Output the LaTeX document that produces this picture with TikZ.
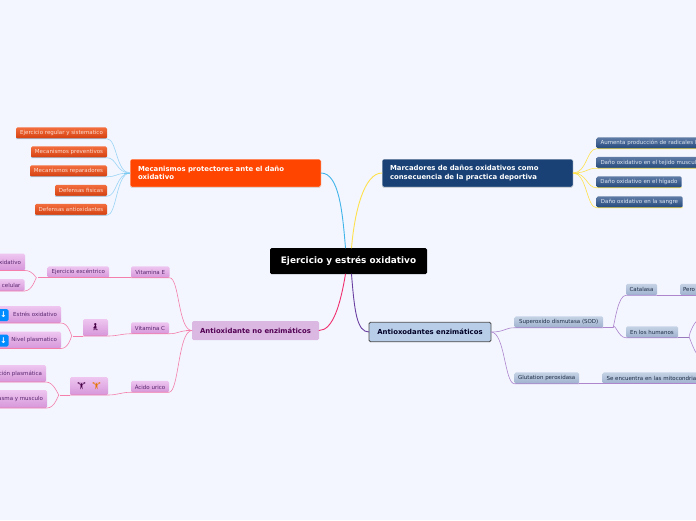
\documentclass[tikz,border=0pt]{standalone}
\usepackage{fontspec}
\setmainfont{DejaVu Sans}
\newfontfamily\emojifont{Noto Emoji}
\usepackage{xcolor}
\usetikzlibrary{positioning, shadows}
\definecolor{paper}{HTML}{F3F6FF}
\definecolor{skywire}{HTML}{41B4EA}
\definecolor{skyleaf}{HTML}{9BD4F5}
\definecolor{sunwire}{HTML}{FFE14D}
\definecolor{rosewire}{HTML}{F0306F}
\definecolor{roseleaf}{HTML}{F47FAB}
\definecolor{plumwire}{HTML}{6A3FA0}
\definecolor{plumleaf}{HTML}{AE86CE}
\definecolor{lilac}{HTML}{DAB8E2}
\definecolor{steel}{HTML}{B8CDE8}
\definecolor{flame}{HTML}{FF4500}
\definecolor{ocean}{HTML}{1A4175}
\begin{document}
\begin{tikzpicture}[
        x=1pt, y=-1pt,
        every node/.style={inner sep=0pt, outer sep=0pt},
        head/.style={rounded corners=1.5pt, font=\fontsize{6.9}{8.2}\selectfont\bfseries, minimum height=28pt, minimum width=191pt, text width=175pt, align=left, draw=white, line width=.5pt, drop shadow={shadow xshift=0pt, shadow yshift=-.7pt, fill=black!45, opacity=.6}},
        fork/.style={rounded corners=1.5pt, font=\fontsize{6.9}{8.2}\selectfont\bfseries, align=center},
        leaf/.style={rounded corners=1.5pt, font=\fontsize{5.5}{6.5}\selectfont, minimum height=11.5pt, align=center},
        orange/.style={leaf, top color={rgb,255:red,243;green,110;blue,62}, bottom color={rgb,255:red,212;green,62;blue,14}, text={rgb,255:red,252;green,222;blue,210}},
        navy/.style={leaf, top color={rgb,255:red,96;green,124;blue,166}, bottom color={rgb,255:red,34;green,72;blue,124}, text={rgb,255:red,222;green,230;blue,242}},
        pink/.style={leaf, top color={rgb,255:red,238;green,198;blue,240}, bottom color={rgb,255:red,214;green,150;blue,218}, text={rgb,255:red,88;green,40;blue,110}},
        slate/.style={leaf, top color={rgb,255:red,198;green,211;blue,230}, bottom color={rgb,255:red,158;green,177;blue,206}, text={rgb,255:red,30;green,46;blue,68}},
        pinkup/.style={pink, minimum height=17pt},
        hint/.style={rounded corners=1.5pt, fill=blue!45!cyan, text=white, minimum width=10pt, minimum height=12pt, font=\fontsize{8}{8}\selectfont\bfseries},
        wire/.style={line width=.9pt, line cap=round},
        twig/.style={line width=.6pt},
        stub/.style={line width=1pt}
    ]
        \path[use as bounding box, fill=paper] (0,0) rectangle (696,520);

        % main topics
        \node[fill=black, text=white, fork, minimum width=157pt, minimum height=26pt, font=\fontsize{8.9}{10}\selectfont\bfseries] (root) at (348.5,261) {Ejercicio y estrés oxidativo};
        \node[head, fill=flame, text=white] (mec) at (225.5,173) {Mecanismos protectores ante el daño\\oxidativo};
        \node[head, fill=ocean, text=white] (mar) at (477.5,173) {Marcadores de daños oxidativos como\\consecuencia de la practica deportiva};
        \node[fork, fill=lilac, text=violet!65!black, minimum width=127pt, minimum height=19pt] (noenz) at (255.5,330.5) {Antioxidante no enzimáticos};
        \node[fork, fill=steel, text=black!85!blue, draw=black!70, line width=.9pt, minimum width=122pt, minimum height=19.5pt] (enz) at (430,332) {Antioxodantes enzimáticos};

        % orange leaves
        \node[orange, anchor=east, minimum width=91pt] (regular) at (107,133) {Ejercicio regular y sistematico};
        \node[orange, below=7.5pt of regular.south east, anchor=north east, minimum width=76pt] (prev) {Mecanismos preventivos};
        \node[orange, below=7.5pt of prev.south east, anchor=north east, minimum width=77pt] (rep) {Mecanismos reparadores};
        \node[orange, below=8pt of rep.south east, anchor=north east, minimum width=52pt] (fis) {Defensas fisicas};
        \node[orange, below=7.5pt of fis.south east, anchor=north east, minimum width=72pt] (anti) {Defensas antioxidantes};

        % navy leaves
        \node[navy, anchor=west, minimum width=130pt, text width=122pt, align=left] (radic) at (596.5,143) {Aumenta producción de radicales l};
        \node[navy, below=8pt of radic.south west, anchor=north west, minimum width=130pt, text width=122pt, align=left] (tejido) {Daño oxidativo en el tejido muscul};
        \node[navy, below=8pt of tejido.south west, anchor=north west, minimum width=85pt] (higado) {Daño oxidativo en el hígado};
        \node[navy, below=8.5pt of higado.south west, anchor=north west, minimum width=86pt] (sangre) {Daño oxidativo en la sangre};

        % slate leaves
        \node[slate, anchor=west, minimum width=88.5pt] (sod) at (514.5,322) {Superoxido dismutasa (SOD)};
        \node[slate, anchor=west, minimum width=64.5pt] (glut) at (514.5,378) {Glutation peroxidasa};
        \node[slate, anchor=west, minimum width=31pt] (cata) at (626,289.5) {Catalasa};
        \node[slate, anchor=west, minimum width=52pt] (huma) at (626,332) {En los humanos};
        \node[slate, anchor=west, minimum width=30pt, text width=24pt, align=left] (pero) at (680,289.5) {Pero};
        \node[slate, anchor=west, minimum width=110pt, text width=102pt, align=left] (mito) at (602.5,378) {Se encuentra en las mitocondria};
        \coordinate (humaup) at (702,318);
        \coordinate (humadown) at (702,358);

        % pink leaves
        \node[pink, anchor=east, minimum width=38.5pt] (vite) at (169.5,272) {Vitamina E};
        \node[pink, anchor=east, minimum width=38pt] (vitc) at (169,328) {Vitamina C};
        \node[pink, anchor=east, minimum width=38pt] (urico) at (169,386.5) {Ácido urico};
        \node[pink, anchor=east, minimum width=61.5pt] (excen) at (109,272) {Ejercicio excéntrico};
        \node[pinkup, anchor=east] (oxid) at (25,262) {\makebox[50pt][r]{oxidativo\hspace{4pt}}};
        \node[pink, anchor=east, minimum height=12pt] (celu) at (24.5,285) {\makebox[50pt][r]{celular\hspace{4pt}}};
        \node[pinkup, anchor=east, minimum width=25pt] (lone) at (108,327.5) {\textcolor{violet!55!black}{\emojifont\fontsize{7}{7}\selectfont\symbol{"1F9CE}}};
        \node[pinkup, anchor=east] (estres) at (61,314.5) {\makebox[75pt][r]{Estrés oxidativo\hspace{4pt}}};
        \node[pinkup, anchor=east] (nivel) at (61,340) {\makebox[75pt][r]{Nivel plasmatico\hspace{4pt}}};
        \node[hint] (estresdown) at (3.5,315) {↓};
        \node[hint] (niveldown) at (3.5,340.5) {↓};
        \node[pinkup, anchor=east, minimum width=38pt, minimum height=18pt] (lift) at (108,386) {\textcolor{violet!55!black}{\emojifont\fontsize{7}{7}\selectfont\symbol{"1F3CB}}\hspace{6pt}\textcolor{orange!90!black}{\emojifont\fontsize{7}{7}\selectfont\symbol{"1F3CB}}};
        \node[pinkup, anchor=east] (plasm) at (46,373.5) {\makebox[60pt][r]{ción plasmática\hspace{4pt}}};
        \node[pinkup, anchor=east, minimum height=18pt] (musc) at (47,399) {\makebox[60pt][r]{asma y musculo\hspace{4pt}}};

        % main connectors
        \draw[wire, skywire] ([xshift=-3pt]root.north) .. controls +(-3,-36) and +(18,0) .. (mec.east);
        \draw[wire, sunwire] ([xshift=3pt]root.north) .. controls +(3,-36) and +(-18,0) .. (mar.west);
        \draw[wire, rosewire] ([xshift=-3pt]root.south) .. controls +(-5,30) and +(14,0) .. (noenz.east);
        \draw[wire, plumwire] ([xshift=3pt]root.south) .. controls +(3,38) and +(-12,0) .. (enz.west);

        % second level
        \foreach \leafname in {regular, prev, rep, fis, anti}
            \draw[twig, skyleaf] (mec.west) .. controls +(-14,0) and +(10,0) .. (\leafname.south east) -- (\leafname.south west);
        \draw[stub, skywire!70!white] (mec.west) -- ++(-6,0);
        \foreach \leafname in {radic, tejido, higado, sangre}
            \draw[twig, sunwire] (mar.east) .. controls +(14,0) and +(-10,0) .. (\leafname.south west) -- (\leafname.south east);
        \draw[stub, sunwire] (mar.east) -- ++(6,0);
        \foreach \leafname in {vite, vitc, urico}
            \draw[twig, roseleaf] (noenz.west) .. controls +(-14,0) and +(10,0) .. (\leafname.south east) -- (\leafname.south west);
        \draw[stub, roseleaf] (noenz.west) -- ++(-6,0);
        \foreach \leafname in {sod, glut}
            \draw[twig, plumleaf] (enz.east) .. controls +(14,0) and +(-10,0) .. (\leafname.south west) -- (\leafname.south east);

        % third level
        \draw[twig, roseleaf] (vite.south west) -- (excen.south east) -- (excen.south west);
        \draw[twig, roseleaf] (vitc.south west) .. controls +(-10,0) and +(10,0) .. (lone.south east) -- (lone.south west);
        \draw[twig, roseleaf] (urico.south west) .. controls +(-10,0) and +(10,0) .. (lift.south east) -- (lift.south west);
        \foreach \parentname/\leafname/\forkshift in {excen/oxid/-11, excen/celu/-11, lone/estres/-11, lone/nivel/-11, lift/plasm/-11, lift/musc/-11}
            \draw[twig, roseleaf] ([xshift=\forkshift pt]\parentname.south west) .. controls +(-1,0) and +(8,0) .. (\leafname.south east) -- (\leafname.south west);
        \foreach \parentname in {excen, lone, lift}
            \draw[stub, roseleaf] (\parentname.south west) -- ++(-10,0);

        \foreach \leafname in {cata, huma}
            \draw[twig, plumleaf] ([xshift=10pt]sod.south east) .. controls +(2,-6) and +(-8,0) .. (\leafname.south west) -- (\leafname.south east);
        \draw[stub, plumleaf] (sod.south east) -- ++(10,0);
        \draw[twig, plumleaf] (cata.south east) -- (pero.south west) -- (pero.south east);
        \draw[twig, plumleaf] (glut.south east) -- (mito.south west) -- (mito.south east);
        \draw[stub, plumwire!70!white] (huma.south east) -- ++(11,0);
        \foreach \leafname in {humaup, humadown}
            \draw[twig, plumleaf] ([xshift=11pt]huma.south east) .. controls +(0,-4) and +(-7,0) .. (\leafname);
    \end{tikzpicture}
\end{document}
